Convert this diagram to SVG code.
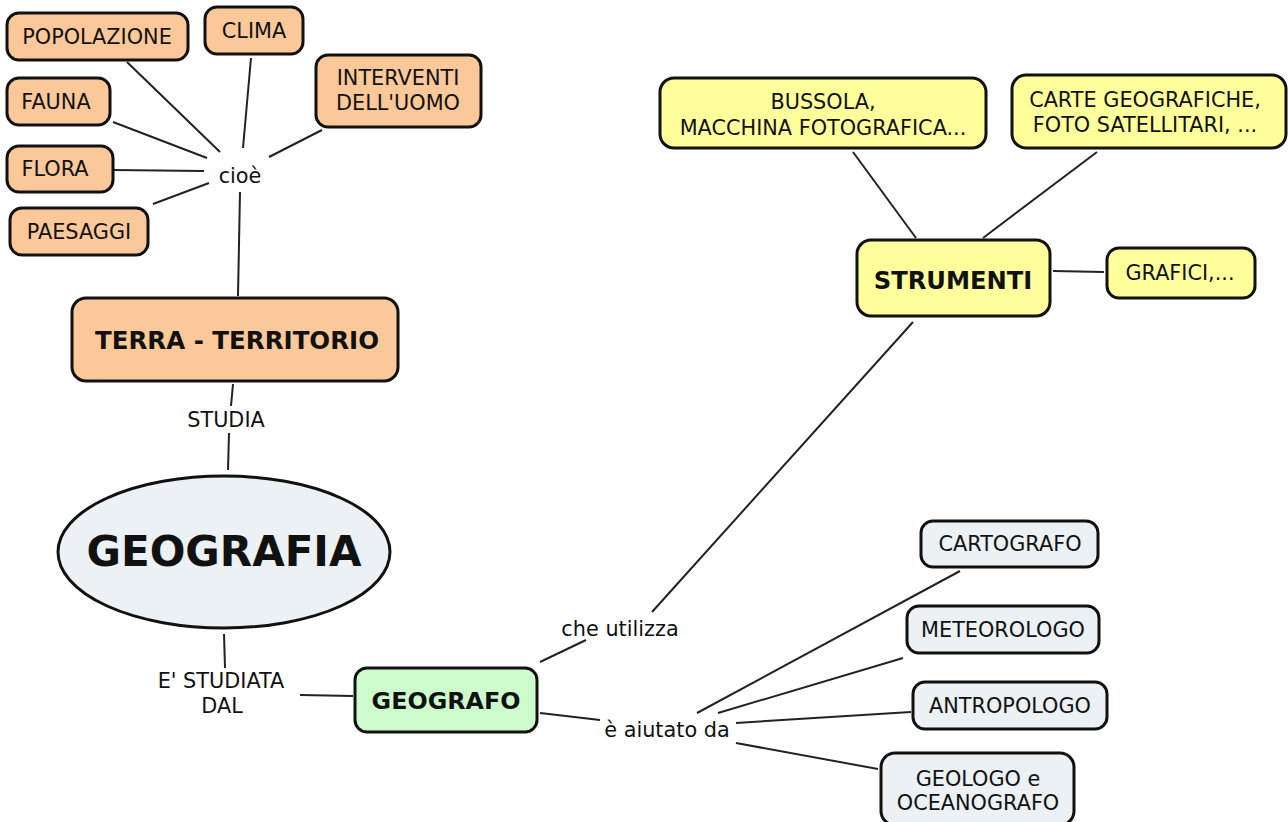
<svg xmlns="http://www.w3.org/2000/svg" width="1288" height="822" viewBox="0 0 1288 822">
<style>
.n{stroke:#111;stroke-width:3}
.o{fill:#FBC899}
.y{fill:#FFFF9C}
.g{fill:#CCFCCB}
.b{fill:#EBF1F4}
.t{font-family:"DejaVu Sans","Verdana",sans-serif;font-size:20.8px;fill:#111;text-anchor:middle}
.bt{font-family:"DejaVu Sans","Verdana",sans-serif;font-weight:bold;fill:#111;text-anchor:middle}
.c line{stroke:#222;stroke-width:2}
</style>
<rect width="1288" height="822" fill="#fff"/>
<g class="c" id="connectors">
<line x1="127" y1="62" x2="220" y2="152"/>
<line x1="251" y1="58" x2="243" y2="148"/>
<line x1="322" y1="130" x2="269" y2="157"/>
<line x1="113" y1="122" x2="207" y2="158"/>
<line x1="113" y1="170" x2="204" y2="171"/>
<line x1="153" y1="204" x2="209" y2="183"/>
<line x1="240" y1="192" x2="238" y2="296"/>
<line x1="233" y1="384" x2="231" y2="406"/>
<line x1="229" y1="433" x2="228" y2="470"/>
<line x1="224" y1="634" x2="225" y2="668"/>
<line x1="300" y1="695" x2="353" y2="696"/>
<line x1="540" y1="662" x2="586" y2="640"/>
<line x1="652" y1="612" x2="913" y2="322"/>
<line x1="540" y1="713" x2="600" y2="720"/>
<line x1="853" y1="152" x2="916" y2="238"/>
<line x1="1097" y1="152" x2="983" y2="238"/>
<line x1="1053" y1="271" x2="1104" y2="272"/>
<line x1="697" y1="713" x2="960" y2="571"/>
<line x1="718" y1="713" x2="903" y2="658"/>
<line x1="736" y1="723" x2="911" y2="712"/>
<line x1="736" y1="743" x2="878" y2="769"/>
<text class="t" x="240" y="183">cioè</text>
<text class="t" x="226" y="427">STUDIA</text>
<text class="t" x="221" y="688">E' STUDIATA</text>
<text class="t" x="222" y="713">DAL</text>
<text class="t" x="620" y="636">che utilizza</text>
<text class="t" x="667" y="737">è aiutato da</text>
</g>
<g id="popolazione"><rect class="n o" x="7" y="13" width="181" height="47" rx="12"/><text class="t" x="97" y="44">POPOLAZIONE</text></g>
<g id="clima"><rect class="n o" x="205" y="7" width="98" height="47" rx="12"/><text class="t" x="254" y="38">CLIMA</text></g>
<g id="interventi"><rect class="n o" x="316" y="55" width="165" height="72" rx="12"/><text class="t" x="398" y="85">INTERVENTI</text><text class="t" x="398" y="110">DELL'UOMO</text></g>
<g id="fauna"><rect class="n o" x="7" y="78" width="103" height="47" rx="12"/><text class="t" x="56" y="109">FAUNA</text></g>
<g id="flora"><rect class="n o" x="7" y="146" width="106" height="46" rx="12"/><text class="t" x="55" y="176">FLORA</text></g>
<g id="paesaggi"><rect class="n o" x="10" y="208" width="138" height="47" rx="12"/><text class="t" x="79" y="239">PAESAGGI</text></g>
<g id="terra"><rect class="n o" x="72" y="298" width="326" height="83" rx="14"/><text class="bt" x="237" y="349" font-size="24.5">TERRA - TERRITORIO</text></g>
<g id="geografia"><ellipse class="n b" cx="224" cy="552" rx="166" ry="76"/><text class="bt" x="224" y="566" font-size="42">GEOGRAFIA</text></g>
<g id="geografo"><rect class="n g" x="355" y="668" width="182" height="64" rx="12"/><text class="bt" x="446" y="709" font-size="23.8">GEOGRAFO</text></g>
<g id="strumenti"><rect class="n y" x="857" y="240" width="193" height="76" rx="14"/><text class="bt" x="953" y="289" font-size="24.2">STRUMENTI</text></g>
<g id="bussola"><rect class="n y" x="660" y="78" width="326" height="70" rx="14"/><text class="t" x="823" y="109">BUSSOLA,</text><text class="t" x="823" y="135">MACCHINA FOTOGRAFICA...</text></g>
<g id="carte"><rect class="n y" x="1012" y="75" width="274" height="73" rx="14"/><text class="t" x="1145" y="107">CARTE GEOGRAFICHE,</text><text class="t" x="1145" y="132">FOTO SATELLITARI, ...</text></g>
<g id="grafici"><rect class="n y" x="1107" y="248" width="148" height="50" rx="12"/><text class="t" x="1180" y="280">GRAFICI,...</text></g>
<g id="cartografo"><rect class="n b" x="921" y="521" width="177" height="46" rx="12"/><text class="t" x="1010" y="551">CARTOGRAFO</text></g>
<g id="meteorologo"><rect class="n b" x="907" y="606" width="192" height="47" rx="12"/><text class="t" x="1003" y="637">METEOROLOGO</text></g>
<g id="antropologo"><rect class="n b" x="913" y="682" width="194" height="47" rx="12"/><text class="t" x="1010" y="713">ANTROPOLOGO</text></g>
<g id="geologo"><rect class="n b" x="881" y="753" width="193" height="72" rx="14"/><text class="t" x="978" y="786">GEOLOGO e</text><text class="t" x="978" y="810">OCEANOGRAFO</text></g>
</svg>
